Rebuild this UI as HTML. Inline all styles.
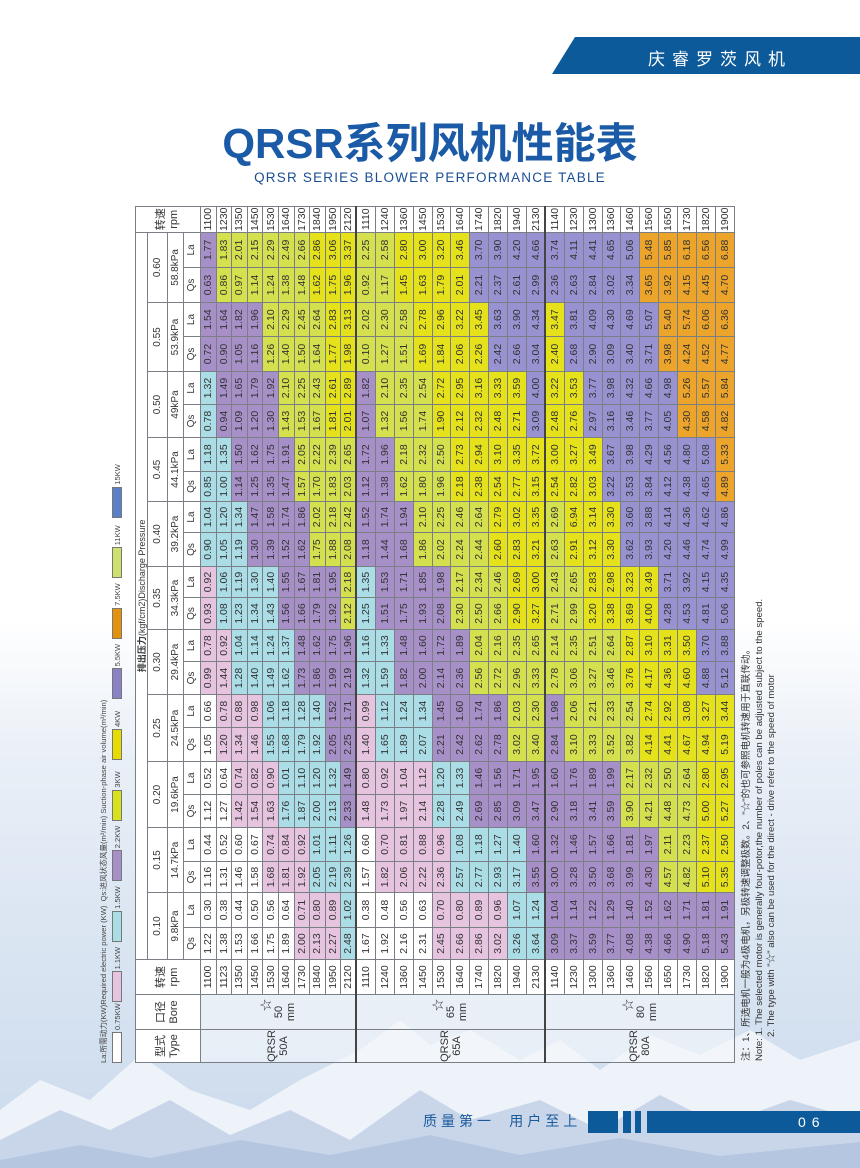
<!DOCTYPE html>
<html><head><meta charset="utf-8"><style>
*{margin:0;padding:0;box-sizing:border-box}
html,body{width:860px;height:1168px;overflow:hidden}
body{position:relative;font-family:"Liberation Sans","Noto Sans CJK SC",sans-serif;color:#333;
background:linear-gradient(to bottom,#fff 0,#fff 620px,#e9eff7 760px,#dde7f3 900px,#d3e0ef 1050px,#c9d9ec 1168px)}
#topbar{position:absolute;left:552px;top:37px;width:308px;height:37px;background:#0d5a9a;clip-path:polygon(23px 0,100% 0,100% 100%,0 100%)}
#topbar span{position:absolute;left:96px;top:8px;color:#fff;font-size:17px;letter-spacing:7px;font-family:"Noto Sans CJK SC",sans-serif}
#title{position:absolute;left:0;width:860px;top:119px;text-align:center;font-size:42px;font-weight:bold;color:#1a5aa6;line-height:50px}
#sub{position:absolute;left:0;width:860px;top:170px;text-align:center;font-size:13.5px;color:#1a4e94;letter-spacing:1.2px}
#rot{position:absolute;left:135px;top:1063px;width:856px;height:650px;transform-origin:0 0;transform:rotate(-90deg)}
table{border-collapse:collapse;table-layout:fixed;width:856px;position:absolute;left:0;top:0}
td,th{border:1px solid #7a7f86;text-align:center;vertical-align:middle;font-weight:normal;font-size:10.5px;line-height:10px;overflow:hidden;white-space:nowrap;background:#fff;padding:0}
th{font-size:10px}
.h1 th{font-size:9px}
tr.s td{height:15.6px}
tr.t td{height:18.9px}
tr.sep td{border-top:2px solid #444}
td.ty,td.bo{background:rgba(245,248,252,0.6);line-height:12px;font-size:11px}
td.rp{background:#fff}
.w{background:#fff}.p{background:#e6c4df}.b{background:#abdde7}.u{background:#a790c8}
.g{background:#d5e04e}.y{background:#e5e21c}.v{background:#9892d0}.o{background:#eca42a}
#leg{position:absolute;left:0;top:-36px;width:700px;height:30px}
#leg .tx{position:absolute;left:0;top:0;font-size:7.6px;line-height:9px;white-space:nowrap;color:#444}
#leg .it{position:absolute;top:13px;height:11px;font-size:7.5px;line-height:11px;color:#444}
#leg .it i{display:inline-block;width:31px;height:10px;border:1px solid #777;vertical-align:top;margin-right:2px}
#notes{position:absolute;left:2px;top:606px;font-size:9.6px;line-height:12.5px;color:#333;white-space:nowrap}
#bot1{position:absolute;left:423px;top:1112px;font-size:14px;color:#1a5a9a;letter-spacing:4px;font-family:"Noto Sans CJK SC",sans-serif;line-height:18px;white-space:nowrap}
.bb{position:absolute;top:1111px;height:22px;background:#0d5a9a}
#pg{position:absolute;left:798px;top:1113px;color:#fff;font-size:14px;letter-spacing:6px;line-height:18px}
</style></head><body>
<svg style="position:absolute;left:0;top:960px" width="860" height="208" viewBox="0 0 860 208">
<polygon points="0,150 40,120 90,140 140,95 190,130 250,150 300,120 360,90 400,60 430,85 470,70 520,100 560,80 600,110 650,75 700,95 750,70 800,100 860,80 860,208 0,208" fill="#eef3fa"/>
<polygon points="0,180 60,150 110,170 170,140 230,175 290,150 350,180 420,130 470,160 540,140 600,170 660,135 720,165 790,140 860,160 860,208 0,208" fill="#c9d6ea"/>
<polygon points="0,200 80,185 150,198 240,180 330,195 430,175 520,195 620,178 720,196 860,182 860,208 0,208" fill="#b5c6e0"/>
</svg>
<div id="topbar"><span>庆睿罗茨风机</span></div>
<div id="title">QRSR系列风机性能表</div>
<div id="sub">QRSR SERIES BLOWER PERFORMANCE TABLE</div>

<div id="rot">
<div id="leg">
<div class="tx">La:所需动力(KW)Required electric power (KW)&nbsp; Qs:进风状态风量(m³/min) Suction-phase air volume(m³/min)</div>
<div class="it" style="left:0"><i class="w"></i>0.75KW</div>
<div class="it" style="left:60.6px"><i class="p"></i>1.1KW</div>
<div class="it" style="left:121.2px"><i class="b"></i>1.5KW</div>
<div class="it" style="left:181.8px"><i class="u"></i>2.2KW</div>
<div class="it" style="left:242.4px"><i style="background:#d6e21e"></i>3KW</div>
<div class="it" style="left:303px"><i style="background:#e6dc00"></i>4KW</div>
<div class="it" style="left:363.6px"><i style="background:#8a82c6"></i>5.5KW</div>
<div class="it" style="left:424.2px"><i style="background:#e3920f"></i>7.5KW</div>
<div class="it" style="left:484.8px"><i style="background:#cfe06e"></i>11KW</div>
<div class="it" style="left:545.4px"><i style="background:#5a80c8"></i>15KW</div>
</div>
<table>
<colgroup><col style="width:33px"><col style="width:35px"><col style="width:35px">
<col style="width:32px"><col style="width:35px"><col style="width:31px"><col style="width:34px">
<col style="width:33px"><col style="width:33px"><col style="width:34px"><col style="width:33px">
<col style="width:33px"><col style="width:32px"><col style="width:32px"><col style="width:31px">
<col style="width:34px"><col style="width:31px"><col style="width:30px"><col style="width:34px">
<col style="width:33px"><col style="width:33px"><col style="width:35px"><col style="width:34px">
<col style="width:35px"><col style="width:35px"><col style="width:26px"></colgroup>
<tr class="h1" style="height:12px"><th rowspan="4" style="font-size:11px;line-height:13px">型式<br>Type</th><th rowspan="4" style="font-size:11px;line-height:13px">口径<br>Bore</th><th rowspan="4" style="font-size:11px;line-height:13px">转速<br>rpm</th><th colspan="22"><b>排出压力</b>(kgf/cm2)Discharge Pressure</th><th rowspan="4" style="font-size:11px;line-height:13px">转速<br>rpm</th></tr>
<tr style="height:20px"><th colspan="2">0.10</th><th colspan="2">0.15</th><th colspan="2">0.20</th><th colspan="2">0.25</th><th colspan="2">0.30</th><th colspan="2">0.35</th><th colspan="2">0.40</th><th colspan="2">0.45</th><th colspan="2">0.50</th><th colspan="2">0.55</th><th colspan="2">0.60</th></tr>
<tr style="height:16px"><th colspan="2">9.8kPa</th><th colspan="2">14.7kPa</th><th colspan="2">19.6kPa</th><th colspan="2">24.5kPa</th><th colspan="2">29.4kPa</th><th colspan="2">34.3kPa</th><th colspan="2">39.2kPa</th><th colspan="2">44.1kPa</th><th colspan="2">49kPa</th><th colspan="2">53.9kPa</th><th colspan="2">58.8kPa</th></tr>
<tr style="height:17px"><th>Qs</th><th>La</th><th>Qs</th><th>La</th><th>Qs</th><th>La</th><th>Qs</th><th>La</th><th>Qs</th><th>La</th><th>Qs</th><th>La</th><th>Qs</th><th>La</th><th>Qs</th><th>La</th><th>Qs</th><th>La</th><th>Qs</th><th>La</th><th>Qs</th><th>La</th></tr>

<tr class="s"><td class="ty" rowspan="10">QRSR<br>50A</td><td class="bo" rowspan="10"><span style="padding-left:14px;font-size:12px">☆</span><br>50<br>mm</td><td class="rp">1100</td><td class="w">1.22</td><td class="w">0.30</td><td class="w">1.16</td><td class="w">0.44</td><td class="w">1.12</td><td class="w">0.52</td><td class="w">1.05</td><td class="w">0.66</td><td class="p">0.99</td><td class="p">0.78</td><td class="p">0.93</td><td class="p">0.92</td><td class="b">0.90</td><td class="b">1.04</td><td class="b">0.85</td><td class="b">1.18</td><td class="b">0.78</td><td class="b">1.32</td><td class="u">0.72</td><td class="u">1.54</td><td class="u">0.63</td><td class="u">1.77</td><td class="rp">1100</td></tr>
<tr class="s"><td class="rp">1123</td><td class="w">1.38</td><td class="w">0.38</td><td class="w">1.31</td><td class="w">0.52</td><td class="w">1.27</td><td class="w">0.64</td><td class="p">1.20</td><td class="p">0.78</td><td class="p">1.44</td><td class="p">0.92</td><td class="b">1.08</td><td class="b">1.06</td><td class="b">1.05</td><td class="b">1.20</td><td class="b">1.00</td><td class="b">1.35</td><td class="u">0.94</td><td class="u">1.49</td><td class="u">0.90</td><td class="u">1.64</td><td class="g">0.86</td><td class="g">1.83</td><td class="rp">1230</td></tr>
<tr class="s"><td class="rp">1350</td><td class="w">1.53</td><td class="w">0.44</td><td class="w">1.46</td><td class="w">0.60</td><td class="p">1.42</td><td class="p">0.74</td><td class="p">1.34</td><td class="p">0.88</td><td class="b">1.28</td><td class="b">1.04</td><td class="b">1.23</td><td class="b">1.19</td><td class="b">1.19</td><td class="b">1.34</td><td class="u">1.14</td><td class="u">1.50</td><td class="u">1.09</td><td class="u">1.65</td><td class="u">1.05</td><td class="u">1.82</td><td class="g">0.97</td><td class="g">2.01</td><td class="rp">1350</td></tr>
<tr class="s"><td class="rp">1450</td><td class="w">1.66</td><td class="w">0.50</td><td class="w">1.58</td><td class="w">0.67</td><td class="p">1.54</td><td class="p">0.82</td><td class="p">1.46</td><td class="p">0.98</td><td class="b">1.40</td><td class="b">1.14</td><td class="b">1.34</td><td class="b">1.30</td><td class="u">1.30</td><td class="u">1.47</td><td class="u">1.25</td><td class="u">1.62</td><td class="u">1.20</td><td class="u">1.79</td><td class="u">1.16</td><td class="u">1.96</td><td class="g">1.14</td><td class="g">2.15</td><td class="rp">1450</td></tr>
<tr class="s"><td class="rp">1530</td><td class="w">1.75</td><td class="w">0.56</td><td class="p">1.68</td><td class="p">0.74</td><td class="p">1.63</td><td class="p">0.90</td><td class="b">1.55</td><td class="b">1.06</td><td class="b">1.49</td><td class="b">1.24</td><td class="b">1.43</td><td class="b">1.40</td><td class="u">1.39</td><td class="u">1.58</td><td class="u">1.35</td><td class="u">1.75</td><td class="u">1.30</td><td class="u">1.92</td><td class="g">1.26</td><td class="g">2.10</td><td class="g">1.24</td><td class="g">2.29</td><td class="rp">1530</td></tr>
<tr class="s"><td class="rp">1640</td><td class="w">1.89</td><td class="w">0.64</td><td class="p">1.81</td><td class="p">0.84</td><td class="b">1.76</td><td class="b">1.01</td><td class="b">1.68</td><td class="b">1.18</td><td class="b">1.62</td><td class="b">1.37</td><td class="u">1.56</td><td class="u">1.55</td><td class="u">1.52</td><td class="u">1.74</td><td class="u">1.47</td><td class="u">1.91</td><td class="g">1.43</td><td class="g">2.10</td><td class="g">1.40</td><td class="g">2.29</td><td class="g">1.38</td><td class="g">2.49</td><td class="rp">1640</td></tr>
<tr class="s"><td class="rp">1730</td><td class="p">2.00</td><td class="p">0.71</td><td class="p">1.92</td><td class="p">0.92</td><td class="b">1.87</td><td class="b">1.10</td><td class="b">1.79</td><td class="b">1.28</td><td class="u">1.73</td><td class="u">1.48</td><td class="u">1.66</td><td class="u">1.67</td><td class="u">1.62</td><td class="u">1.86</td><td class="g">1.57</td><td class="g">2.05</td><td class="g">1.53</td><td class="g">2.25</td><td class="g">1.50</td><td class="g">2.45</td><td class="g">1.48</td><td class="g">2.66</td><td class="rp">1730</td></tr>
<tr class="s"><td class="rp">1840</td><td class="p">2.13</td><td class="p">0.80</td><td class="b">2.05</td><td class="b">1.01</td><td class="b">2.00</td><td class="b">1.20</td><td class="b">1.92</td><td class="b">1.40</td><td class="u">1.86</td><td class="u">1.62</td><td class="u">1.79</td><td class="u">1.81</td><td class="g">1.75</td><td class="g">2.02</td><td class="g">1.70</td><td class="g">2.22</td><td class="g">1.67</td><td class="g">2.43</td><td class="g">1.64</td><td class="g">2.64</td><td class="y">1.62</td><td class="y">2.86</td><td class="rp">1840</td></tr>
<tr class="s"><td class="rp">1950</td><td class="p">2.27</td><td class="p">0.89</td><td class="b">2.19</td><td class="b">1.11</td><td class="b">2.13</td><td class="b">1.32</td><td class="u">2.05</td><td class="u">1.52</td><td class="u">1.99</td><td class="u">1.75</td><td class="u">1.92</td><td class="u">1.95</td><td class="g">1.88</td><td class="g">2.18</td><td class="g">1.83</td><td class="g">2.39</td><td class="y">1.81</td><td class="y">2.61</td><td class="y">1.77</td><td class="y">2.83</td><td class="y">1.75</td><td class="y">3.06</td><td class="rp">1950</td></tr>
<tr class="s"><td class="rp">2120</td><td class="b">2.48</td><td class="b">1.02</td><td class="b">2.39</td><td class="b">1.26</td><td class="u">2.33</td><td class="u">1.49</td><td class="u">2.25</td><td class="u">1.71</td><td class="u">2.19</td><td class="u">1.96</td><td class="g">2.12</td><td class="g">2.18</td><td class="g">2.08</td><td class="g">2.42</td><td class="g">2.03</td><td class="g">2.65</td><td class="y">2.01</td><td class="y">2.89</td><td class="y">1.98</td><td class="y">3.13</td><td class="y">1.96</td><td class="y">3.37</td><td class="rp">2120</td></tr>

<tr class="t sep"><td class="ty" rowspan="10">QRSR<br>65A</td><td class="bo" rowspan="10"><span style="padding-left:14px;font-size:12px">☆</span><br>65<br>mm</td><td class="rp">1110</td><td class="w">1.67</td><td class="w">0.38</td><td class="w">1.57</td><td class="w">0.60</td><td class="p">1.48</td><td class="p">0.80</td><td class="p">1.40</td><td class="p">0.99</td><td class="b">1.32</td><td class="b">1.16</td><td class="b">1.25</td><td class="b">1.35</td><td class="u">1.18</td><td class="u">1.52</td><td class="u">1.12</td><td class="u">1.72</td><td class="u">1.07</td><td class="u">1.82</td><td class="g">0.10</td><td class="g">2.02</td><td class="g">0.92</td><td class="g">2.25</td><td class="rp">1110</td></tr>
<tr class="t"><td class="rp">1240</td><td class="w">1.92</td><td class="w">0.48</td><td class="p">1.82</td><td class="p">0.70</td><td class="p">1.73</td><td class="p">0.92</td><td class="b">1.65</td><td class="b">1.12</td><td class="b">1.59</td><td class="b">1.33</td><td class="u">1.51</td><td class="u">1.53</td><td class="u">1.44</td><td class="u">1.74</td><td class="u">1.38</td><td class="u">1.96</td><td class="g">1.32</td><td class="g">2.10</td><td class="g">1.27</td><td class="g">2.30</td><td class="g">1.17</td><td class="g">2.58</td><td class="rp">1240</td></tr>
<tr class="t"><td class="rp">1360</td><td class="w">2.16</td><td class="w">0.56</td><td class="p">2.06</td><td class="p">0.81</td><td class="p">1.97</td><td class="p">1.04</td><td class="b">1.89</td><td class="b">1.24</td><td class="u">1.82</td><td class="u">1.48</td><td class="u">1.75</td><td class="u">1.71</td><td class="u">1.68</td><td class="u">1.94</td><td class="g">1.62</td><td class="g">2.18</td><td class="g">1.56</td><td class="g">2.35</td><td class="g">1.51</td><td class="g">2.58</td><td class="y">1.45</td><td class="y">2.80</td><td class="rp">1360</td></tr>
<tr class="t"><td class="rp">1450</td><td class="w">2.31</td><td class="w">0.63</td><td class="p">2.22</td><td class="p">0.88</td><td class="p">2.14</td><td class="p">1.12</td><td class="b">2.07</td><td class="b">1.34</td><td class="u">2.00</td><td class="u">1.60</td><td class="u">1.93</td><td class="u">1.85</td><td class="g">1.86</td><td class="g">2.10</td><td class="g">1.80</td><td class="g">2.32</td><td class="g">1.74</td><td class="g">2.54</td><td class="y">1.69</td><td class="y">2.78</td><td class="y">1.63</td><td class="y">3.00</td><td class="rp">1450</td></tr>
<tr class="t"><td class="rp">1530</td><td class="p">2.45</td><td class="p">0.70</td><td class="p">2.36</td><td class="p">0.96</td><td class="b">2.28</td><td class="b">1.20</td><td class="u">2.21</td><td class="u">1.45</td><td class="u">2.14</td><td class="u">1.72</td><td class="u">2.08</td><td class="u">1.98</td><td class="g">2.02</td><td class="g">2.25</td><td class="g">1.96</td><td class="g">2.50</td><td class="y">1.90</td><td class="y">2.72</td><td class="y">1.84</td><td class="y">2.96</td><td class="y">1.79</td><td class="y">3.20</td><td class="rp">1530</td></tr>
<tr class="t"><td class="rp">1640</td><td class="p">2.66</td><td class="p">0.80</td><td class="b">2.57</td><td class="b">1.08</td><td class="b">2.49</td><td class="b">1.33</td><td class="u">2.42</td><td class="u">1.60</td><td class="u">2.36</td><td class="u">1.89</td><td class="g">2.30</td><td class="g">2.17</td><td class="g">2.24</td><td class="g">2.46</td><td class="y">2.18</td><td class="y">2.73</td><td class="y">2.12</td><td class="y">2.95</td><td class="y">2.06</td><td class="y">3.22</td><td class="y">2.01</td><td class="y">3.46</td><td class="rp">1640</td></tr>
<tr class="t"><td class="rp">1740</td><td class="p">2.86</td><td class="p">0.89</td><td class="b">2.77</td><td class="b">1.18</td><td class="u">2.69</td><td class="u">1.46</td><td class="u">2.62</td><td class="u">1.74</td><td class="g">2.56</td><td class="g">2.04</td><td class="g">2.50</td><td class="g">2.34</td><td class="g">2.44</td><td class="g">2.64</td><td class="y">2.38</td><td class="y">2.94</td><td class="y">2.32</td><td class="y">3.16</td><td class="y">2.26</td><td class="y">3.45</td><td class="v">2.21</td><td class="v">3.70</td><td class="rp">1740</td></tr>
<tr class="t"><td class="rp">1820</td><td class="p">3.02</td><td class="p">0.96</td><td class="b">2.93</td><td class="b">1.27</td><td class="u">2.85</td><td class="u">1.56</td><td class="u">2.78</td><td class="u">1.86</td><td class="g">2.72</td><td class="g">2.16</td><td class="g">2.66</td><td class="g">2.46</td><td class="y">2.60</td><td class="y">2.79</td><td class="y">2.54</td><td class="y">3.10</td><td class="y">2.48</td><td class="y">3.33</td><td class="v">2.42</td><td class="v">3.63</td><td class="v">2.37</td><td class="v">3.90</td><td class="rp">1820</td></tr>
<tr class="t"><td class="rp">1940</td><td class="b">3.26</td><td class="b">1.07</td><td class="b">3.17</td><td class="b">1.40</td><td class="u">3.09</td><td class="u">1.71</td><td class="g">3.02</td><td class="g">2.03</td><td class="g">2.96</td><td class="g">2.35</td><td class="y">2.90</td><td class="y">2.69</td><td class="y">2.83</td><td class="y">3.02</td><td class="y">2.77</td><td class="y">3.35</td><td class="y">2.71</td><td class="y">3.59</td><td class="v">2.66</td><td class="v">3.90</td><td class="v">2.61</td><td class="v">4.20</td><td class="rp">1940</td></tr>
<tr class="t"><td class="rp">2130</td><td class="b">3.64</td><td class="b">1.24</td><td class="u">3.55</td><td class="u">1.60</td><td class="u">3.47</td><td class="u">1.95</td><td class="g">3.40</td><td class="g">2.30</td><td class="g">3.33</td><td class="g">2.65</td><td class="y">3.27</td><td class="y">3.00</td><td class="y">3.21</td><td class="y">3.35</td><td class="y">3.15</td><td class="y">3.72</td><td class="v">3.09</td><td class="v">4.00</td><td class="v">3.04</td><td class="v">4.34</td><td class="v">2.99</td><td class="v">4.66</td><td class="rp">2130</td></tr>

<tr class="t sep"><td class="ty" rowspan="10">QRSR<br>80A</td><td class="bo" rowspan="10"><span style="padding-left:14px;font-size:12px">☆</span><br>80<br>mm</td><td class="rp">1140</td><td class="u">3.09</td><td class="u">1.04</td><td class="u">3.00</td><td class="u">1.32</td><td class="u">2.90</td><td class="u">1.60</td><td class="u">2.84</td><td class="u">1.98</td><td class="g">2.78</td><td class="g">2.14</td><td class="g">2.71</td><td class="g">2.43</td><td class="g">2.63</td><td class="g">2.69</td><td class="y">2.54</td><td class="y">3.00</td><td class="y">2.48</td><td class="y">3.22</td><td class="y">2.40</td><td class="y">3.47</td><td class="v">2.36</td><td class="v">3.74</td><td class="rp">1140</td></tr>
<tr class="t"><td class="rp">1230</td><td class="u">3.37</td><td class="u">1.14</td><td class="u">3.28</td><td class="u">1.46</td><td class="u">3.18</td><td class="u">1.76</td><td class="g">3.10</td><td class="g">2.06</td><td class="g">3.06</td><td class="g">2.35</td><td class="g">2.99</td><td class="g">2.65</td><td class="y">2.91</td><td class="y">6.94</td><td class="y">2.82</td><td class="y">3.27</td><td class="y">2.76</td><td class="y">3.53</td><td class="v">2.68</td><td class="v">3.81</td><td class="v">2.63</td><td class="v">4.11</td><td class="rp">1230</td></tr>
<tr class="t"><td class="rp">1300</td><td class="u">3.59</td><td class="u">1.22</td><td class="u">3.50</td><td class="u">1.57</td><td class="u">3.41</td><td class="u">1.89</td><td class="g">3.33</td><td class="g">2.21</td><td class="g">3.27</td><td class="g">2.51</td><td class="y">3.20</td><td class="y">2.83</td><td class="y">3.12</td><td class="y">3.14</td><td class="y">3.03</td><td class="y">3.49</td><td class="v">2.97</td><td class="v">3.77</td><td class="v">2.90</td><td class="v">4.09</td><td class="v">2.84</td><td class="v">4.41</td><td class="rp">1300</td></tr>
<tr class="t"><td class="rp">1360</td><td class="u">3.77</td><td class="u">1.29</td><td class="u">3.68</td><td class="u">1.66</td><td class="u">3.59</td><td class="u">1.99</td><td class="g">3.52</td><td class="g">2.33</td><td class="g">3.46</td><td class="g">2.64</td><td class="y">3.38</td><td class="y">2.98</td><td class="y">3.30</td><td class="y">3.30</td><td class="v">3.22</td><td class="v">3.67</td><td class="v">3.16</td><td class="v">3.98</td><td class="v">3.09</td><td class="v">4.30</td><td class="v">3.02</td><td class="v">4.65</td><td class="rp">1360</td></tr>
<tr class="t"><td class="rp">1460</td><td class="u">4.08</td><td class="u">1.40</td><td class="u">3.99</td><td class="u">1.81</td><td class="g">3.90</td><td class="g">2.17</td><td class="g">3.82</td><td class="g">2.54</td><td class="y">3.76</td><td class="y">2.87</td><td class="y">3.69</td><td class="y">3.23</td><td class="v">3.62</td><td class="v">3.60</td><td class="v">3.53</td><td class="v">3.98</td><td class="v">3.46</td><td class="v">4.32</td><td class="v">3.40</td><td class="v">4.69</td><td class="v">3.34</td><td class="v">5.06</td><td class="rp">1460</td></tr>
<tr class="t"><td class="rp">1560</td><td class="u">4.38</td><td class="u">1.52</td><td class="u">4.30</td><td class="u">1.97</td><td class="g">4.21</td><td class="g">2.32</td><td class="y">4.14</td><td class="y">2.74</td><td class="y">4.17</td><td class="y">3.10</td><td class="y">4.00</td><td class="y">3.49</td><td class="v">3.93</td><td class="v">3.88</td><td class="v">3.84</td><td class="v">4.29</td><td class="v">3.77</td><td class="v">4.66</td><td class="v">3.71</td><td class="v">5.07</td><td class="o">3.65</td><td class="o">5.48</td><td class="rp">1560</td></tr>
<tr class="t"><td class="rp">1650</td><td class="u">4.66</td><td class="u">1.62</td><td class="g">4.57</td><td class="g">2.11</td><td class="g">4.48</td><td class="g">2.50</td><td class="y">4.41</td><td class="y">2.92</td><td class="y">4.36</td><td class="y">3.31</td><td class="v">4.28</td><td class="v">3.71</td><td class="v">4.20</td><td class="v">4.14</td><td class="v">4.12</td><td class="v">4.56</td><td class="v">4.05</td><td class="v">4.98</td><td class="o">3.98</td><td class="o">5.40</td><td class="o">3.92</td><td class="o">5.85</td><td class="rp">1650</td></tr>
<tr class="t"><td class="rp">1730</td><td class="u">4.90</td><td class="u">1.71</td><td class="g">4.82</td><td class="g">2.23</td><td class="g">4.73</td><td class="g">2.64</td><td class="y">4.67</td><td class="y">3.08</td><td class="y">4.60</td><td class="y">3.50</td><td class="v">4.53</td><td class="v">3.92</td><td class="v">4.46</td><td class="v">4.36</td><td class="v">4.38</td><td class="v">4.80</td><td class="o">4.30</td><td class="o">5.26</td><td class="o">4.24</td><td class="o">5.74</td><td class="o">4.15</td><td class="o">6.18</td><td class="rp">1730</td></tr>
<tr class="t"><td class="rp">1820</td><td class="u">5.18</td><td class="u">1.81</td><td class="y">5.10</td><td class="y">2.37</td><td class="y">5.00</td><td class="y">2.80</td><td class="y">4.94</td><td class="y">3.27</td><td class="v">4.88</td><td class="v">3.70</td><td class="v">4.81</td><td class="v">4.15</td><td class="v">4.74</td><td class="v">4.62</td><td class="v">4.65</td><td class="v">5.08</td><td class="o">4.58</td><td class="o">5.57</td><td class="o">4.52</td><td class="o">6.06</td><td class="o">4.45</td><td class="o">6.56</td><td class="rp">1820</td></tr>
<tr class="t"><td class="rp">1900</td><td class="u">5.43</td><td class="u">1.91</td><td class="y">5.35</td><td class="y">2.50</td><td class="y">5.27</td><td class="y">2.95</td><td class="y">5.19</td><td class="y">3.44</td><td class="v">5.12</td><td class="v">3.88</td><td class="v">5.06</td><td class="v">4.35</td><td class="v">4.99</td><td class="v">4.86</td><td class="o">4.89</td><td class="o">5.33</td><td class="o">4.82</td><td class="o">5.84</td><td class="o">4.77</td><td class="o">6.36</td><td class="o">4.70</td><td class="o">6.88</td><td class="rp">1900</td></tr>
</table>
<div id="notes">注：1、所选电机一般为4极电机，另极转速调整极数。2、"☆"的也可参照电机转速用于直联传动。<br>Note: 1. The selected motor is generally four-potor,the number of poles can be adjusted subject to the speed.<br>&nbsp;&nbsp;&nbsp;&nbsp;&nbsp;&nbsp;&nbsp;&nbsp;&nbsp;2. The type with "☆" also can be used for the direct - drive refer to the speed of motor</div>
</div>

<div id="bot1">质量第一&nbsp;&nbsp;用户至上</div>
<div class="bb" style="left:588px;width:30px"></div>
<div class="bb" style="left:623px;width:8px"></div>
<div class="bb" style="left:635px;width:6px"></div>
<div class="bb" style="left:647px;width:213px"></div>
<div id="pg">06</div>
</body></html>
